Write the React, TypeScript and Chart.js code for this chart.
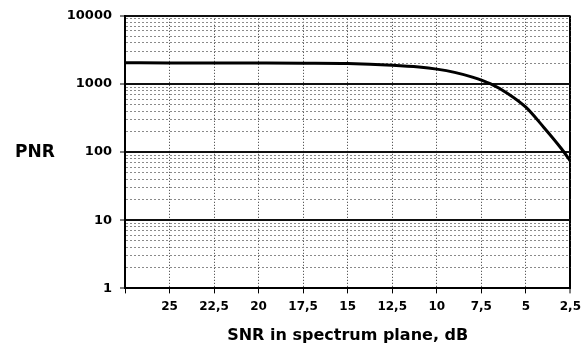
import { useEffect, useRef } from 'react';
import { Chart, registerables } from 'chart.js';

Chart.register(...registerables);

// SNR in spectrum plane (dB) and PNR
const snrDb = [27.5, 25, 22.5, 20, 17.5, 15, 12.5, 11, 10, 9, 8, 7, 6, 5, 4, 3, 2.5];
const pnr = [2040, 2035, 2030, 2025, 2015, 1990, 1880, 1770, 1650, 1480, 1260, 1010, 720, 456, 232, 112, 74];

// axis ticks
const xTicks = [27.5, 25, 22.5, 20, 17.5, 15, 12.5, 10, 7.5, 5, 2.5];
const yDecades = [1, 10, 100, 1000, 10000];
const yMultipliers = [1, 2, 3, 4, 5, 6, 7, 8, 9];

const FONT = '"DejaVu Sans", "Liberation Sans", sans-serif';

const isMajor = (v: number) => {
  const l = Math.log10(v);
  return Math.abs(l - Math.round(l)) < 1e-9;
};

export default function App() {
  const ref = useRef<HTMLCanvasElement | null>(null);

  useEffect(() => {
    document.body.style.margin = '0';
    const canvas = ref.current;
    if (!canvas) return;

    const pnrLabel = {
      id: 'pnrLabel',
      afterDraw(chart: any) {
        const ctx = chart.ctx;
        const y = chart.scales.y.getPixelForValue(100);
        ctx.save();
        ctx.font = `bold 17px ${FONT}`;
        ctx.fillStyle = '#000';
        ctx.textAlign = 'left';
        ctx.textBaseline = 'middle';
        ctx.fillText('PNR', 15, y);
        ctx.restore();
      },
    };

    const chart = new Chart(canvas, {
      type: 'line',
      data: {
        datasets: [
          {
            data: snrDb.map((x, i) => ({ x, y: pnr[i] })),
            borderColor: '#000',
            borderWidth: 3,
            pointRadius: 0,
            cubicInterpolationMode: 'monotone',
            fill: false,
          },
        ],
      },
      options: {
        animation: false,
        responsive: false,
        maintainAspectRatio: false,
        layout: { padding: { top: 10, right: 6, bottom: 2, left: 0 } },
        plugins: { legend: { display: false }, tooltip: { enabled: false } },
        scales: {
          x: {
            type: 'linear',
            reverse: true,
            min: 2.5,
            max: 27.5,
            afterBuildTicks: (scale: any) => {
              scale.ticks = xTicks.map((v) => ({ value: v }));
            },
            ticks: {
              autoSkip: false,
              maxRotation: 0,
              padding: 6,
              color: '#000',
              font: { family: FONT, size: 12, weight: 'bold' },
              callback: (v: any) => (v === 27.5 ? '' : String(v).replace('.', ',')),
            },
            grid: {
              drawTicks: true,
              tickLength: 5,
              tickColor: '#000',
              tickWidth: 1,
              color: (c: any) => (c.tick && c.tick.value === 2.5 ? '#000' : '#333'),
              lineWidth: (c: any) => (c.tick && c.tick.value === 2.5 ? 2 : 1),
            },
            border: {
              display: true,
              color: '#000',
              width: 2,
              dash: (c: any) => (c.tick && c.tick.value !== 2.5 && c.tick.value !== 27.5 ? [1, 2] : []),
            },
            title: {
              display: true,
              text: 'SNR in spectrum plane, dB',
              color: '#000',
              font: { family: FONT, size: 16, weight: 'bold' },
              padding: { top: 6, bottom: 0 },
            },
          },
          y: {
            type: 'logarithmic',
            min: 1,
            max: 10000,
            afterBuildTicks: (scale: any) => {
              const t: any[] = [];
              yDecades.slice(0, -1).forEach((d) => yMultipliers.forEach((m) => t.push({ value: m * d })));
              t.push({ value: yDecades[yDecades.length - 1] });
              scale.ticks = t;
            },
            afterFit: (scale: any) => {
              scale.width = 125;
            },
            ticks: {
              autoSkip: false,
              padding: 8,
              color: '#000',
              font: { family: FONT, size: 13, weight: 'bold' },
              callback: (v: any) => (isMajor(Number(v)) ? String(Math.round(Number(v))) : ''),
            },
            grid: {
              drawTicks: true,
              tickLength: 5,
              tickWidth: 1,
              tickColor: (c: any) => (c.tick && isMajor(c.tick.value) ? '#000' : 'rgba(0,0,0,0)'),
              color: (c: any) => (c.tick && isMajor(c.tick.value) ? '#111' : '#8a8a8a'),
              lineWidth: (c: any) => (c.tick && isMajor(c.tick.value) ? 2 : 1),
            },
            border: {
              display: true,
              color: '#000',
              width: 2,
              dash: (c: any) => (c.tick && !isMajor(c.tick.value) ? [2, 2] : []),
            },
          },
        },
      },
      plugins: [pnrLabel],
    } as any);

    return () => chart.destroy();
  }, []);

  return (
    <div style={{ position: 'absolute', left: 0, top: 0, width: 587, height: 347, background: '#fff' }}>
      <canvas ref={ref} width={587} height={347} style={{ width: 587, height: 347, display: 'block' }} />
    </div>
  );
}
